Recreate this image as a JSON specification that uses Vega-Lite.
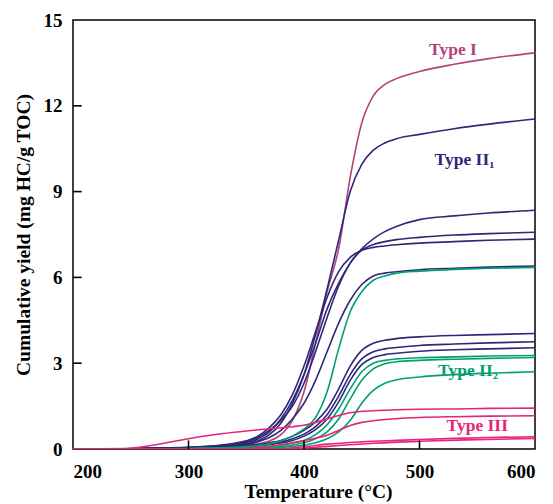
{
  "$schema": "https://vega.github.io/schema/vega-lite/v6.json",
  "width": 462,
  "height": 429,
  "autosize": "none",
  "padding": {"left": 73, "top": 20, "right": 18, "bottom": 55},
  "background": "white",
  "config": {
    "view": {"stroke": "black", "strokeWidth": 1.5},
    "axis": {
      "domain": false,
      "grid": false,
      "ticks": true,
      "tickOpacity": 0,
      "tickSize": -7,
      "labelFont": "Liberation Serif",
      "labelFontWeight": "bold",
      "labelFontSize": 19,
      "labelColor": "black",
      "titleFont": "Liberation Serif",
      "titleFontWeight": "bold",
      "titleFontSize": 19.5,
      "titleColor": "black"
    }
  },
  "datasets": {
    "curves": [
      {"s":"I","k":"I","t":200,"y":0},{"s":"I","k":"I","t":250,"y":0.01},{"s":"I","k":"I","t":300,"y":0.04},{"s":"I","k":"I","t":340,"y":0.1},{"s":"I","k":"I","t":360,"y":0.18},{"s":"I","k":"I","t":370,"y":0.28},{"s":"I","k":"I","t":380,"y":0.5},{"s":"I","k":"I","t":390,"y":1.0},{"s":"I","k":"I","t":400,"y":2.0},{"s":"I","k":"I","t":410,"y":3.7},{"s":"I","k":"I","t":420,"y":5.5},{"s":"I","k":"I","t":430,"y":7.0},{"s":"I","k":"I","t":440,"y":9.5},{"s":"I","k":"I","t":450,"y":11.4},{"s":"I","k":"I","t":460,"y":12.35},{"s":"I","k":"I","t":470,"y":12.75},{"s":"I","k":"I","t":480,"y":12.95},{"s":"I","k":"I","t":500,"y":13.2},{"s":"I","k":"I","t":530,"y":13.45},{"s":"I","k":"I","t":560,"y":13.65},{"s":"I","k":"I","t":600,"y":13.85},

      {"s":"A","k":"II1","t":200,"y":0},{"s":"A","k":"II1","t":250,"y":0.01},{"s":"A","k":"II1","t":300,"y":0.04},{"s":"A","k":"II1","t":340,"y":0.12},{"s":"A","k":"II1","t":360,"y":0.28},{"s":"A","k":"II1","t":370,"y":0.5},{"s":"A","k":"II1","t":380,"y":0.9},{"s":"A","k":"II1","t":390,"y":1.6},{"s":"A","k":"II1","t":400,"y":2.6},{"s":"A","k":"II1","t":410,"y":4.0},{"s":"A","k":"II1","t":420,"y":5.6},{"s":"A","k":"II1","t":430,"y":7.3},{"s":"A","k":"II1","t":440,"y":9.0},{"s":"A","k":"II1","t":450,"y":9.95},{"s":"A","k":"II1","t":460,"y":10.45},{"s":"A","k":"II1","t":470,"y":10.7},{"s":"A","k":"II1","t":480,"y":10.85},{"s":"A","k":"II1","t":500,"y":11.0},{"s":"A","k":"II1","t":530,"y":11.2},{"s":"A","k":"II1","t":560,"y":11.36},{"s":"A","k":"II1","t":600,"y":11.54},

      {"s":"B","k":"II1","t":200,"y":0},{"s":"B","k":"II1","t":250,"y":0.01},{"s":"B","k":"II1","t":300,"y":0.05},{"s":"B","k":"II1","t":340,"y":0.15},{"s":"B","k":"II1","t":360,"y":0.35},{"s":"B","k":"II1","t":370,"y":0.6},{"s":"B","k":"II1","t":380,"y":1.05},{"s":"B","k":"II1","t":390,"y":1.7},{"s":"B","k":"II1","t":400,"y":2.6},{"s":"B","k":"II1","t":410,"y":3.7},{"s":"B","k":"II1","t":420,"y":4.9},{"s":"B","k":"II1","t":430,"y":5.8},{"s":"B","k":"II1","t":440,"y":6.5},{"s":"B","k":"II1","t":450,"y":7.0},{"s":"B","k":"II1","t":460,"y":7.35},{"s":"B","k":"II1","t":470,"y":7.6},{"s":"B","k":"II1","t":480,"y":7.78},{"s":"B","k":"II1","t":500,"y":8.02},{"s":"B","k":"II1","t":530,"y":8.15},{"s":"B","k":"II1","t":560,"y":8.25},{"s":"B","k":"II1","t":600,"y":8.35},

      {"s":"C","k":"II1","t":200,"y":0},{"s":"C","k":"II1","t":250,"y":0.01},{"s":"C","k":"II1","t":300,"y":0.05},{"s":"C","k":"II1","t":340,"y":0.18},{"s":"C","k":"II1","t":360,"y":0.4},{"s":"C","k":"II1","t":370,"y":0.65},{"s":"C","k":"II1","t":380,"y":1.0},{"s":"C","k":"II1","t":390,"y":1.5},{"s":"C","k":"II1","t":400,"y":2.3},{"s":"C","k":"II1","t":410,"y":3.4},{"s":"C","k":"II1","t":420,"y":4.6},{"s":"C","k":"II1","t":430,"y":5.7},{"s":"C","k":"II1","t":440,"y":6.5},{"s":"C","k":"II1","t":450,"y":6.95},{"s":"C","k":"II1","t":460,"y":7.15},{"s":"C","k":"II1","t":470,"y":7.25},{"s":"C","k":"II1","t":480,"y":7.32},{"s":"C","k":"II1","t":500,"y":7.4},{"s":"C","k":"II1","t":530,"y":7.48},{"s":"C","k":"II1","t":560,"y":7.53},{"s":"C","k":"II1","t":600,"y":7.58},

      {"s":"D","k":"II1","t":200,"y":0},{"s":"D","k":"II1","t":250,"y":0.02},{"s":"D","k":"II1","t":300,"y":0.06},{"s":"D","k":"II1","t":340,"y":0.2},{"s":"D","k":"II1","t":360,"y":0.45},{"s":"D","k":"II1","t":370,"y":0.75},{"s":"D","k":"II1","t":380,"y":1.2},{"s":"D","k":"II1","t":390,"y":1.9},{"s":"D","k":"II1","t":400,"y":2.9},{"s":"D","k":"II1","t":410,"y":4.1},{"s":"D","k":"II1","t":420,"y":5.3},{"s":"D","k":"II1","t":430,"y":6.2},{"s":"D","k":"II1","t":440,"y":6.7},{"s":"D","k":"II1","t":450,"y":6.95},{"s":"D","k":"II1","t":460,"y":7.05},{"s":"D","k":"II1","t":470,"y":7.1},{"s":"D","k":"II1","t":480,"y":7.14},{"s":"D","k":"II1","t":500,"y":7.2},{"s":"D","k":"II1","t":530,"y":7.25},{"s":"D","k":"II1","t":560,"y":7.3},{"s":"D","k":"II1","t":600,"y":7.34},

      {"s":"E","k":"II1","t":200,"y":0},{"s":"E","k":"II1","t":250,"y":0.01},{"s":"E","k":"II1","t":300,"y":0.04},{"s":"E","k":"II1","t":340,"y":0.12},{"s":"E","k":"II1","t":360,"y":0.25},{"s":"E","k":"II1","t":370,"y":0.4},{"s":"E","k":"II1","t":380,"y":0.65},{"s":"E","k":"II1","t":390,"y":1.05},{"s":"E","k":"II1","t":400,"y":1.6},{"s":"E","k":"II1","t":410,"y":2.4},{"s":"E","k":"II1","t":420,"y":3.4},{"s":"E","k":"II1","t":430,"y":4.4},{"s":"E","k":"II1","t":440,"y":5.2},{"s":"E","k":"II1","t":450,"y":5.75},{"s":"E","k":"II1","t":460,"y":6.05},{"s":"E","k":"II1","t":470,"y":6.15},{"s":"E","k":"II1","t":480,"y":6.2},{"s":"E","k":"II1","t":500,"y":6.27},{"s":"E","k":"II1","t":530,"y":6.32},{"s":"E","k":"II1","t":560,"y":6.36},{"s":"E","k":"II1","t":600,"y":6.4},

      {"s":"F","k":"II1","t":200,"y":0},{"s":"F","k":"II1","t":250,"y":0.01},{"s":"F","k":"II1","t":300,"y":0.03},{"s":"F","k":"II1","t":340,"y":0.1},{"s":"F","k":"II1","t":360,"y":0.16},{"s":"F","k":"II1","t":370,"y":0.22},{"s":"F","k":"II1","t":380,"y":0.3},{"s":"F","k":"II1","t":390,"y":0.45},{"s":"F","k":"II1","t":400,"y":0.65},{"s":"F","k":"II1","t":410,"y":0.95},{"s":"F","k":"II1","t":420,"y":1.4},{"s":"F","k":"II1","t":430,"y":2.1},{"s":"F","k":"II1","t":440,"y":2.9},{"s":"F","k":"II1","t":450,"y":3.45},{"s":"F","k":"II1","t":460,"y":3.7},{"s":"F","k":"II1","t":470,"y":3.8},{"s":"F","k":"II1","t":480,"y":3.86},{"s":"F","k":"II1","t":500,"y":3.92},{"s":"F","k":"II1","t":530,"y":3.97},{"s":"F","k":"II1","t":560,"y":4.0},{"s":"F","k":"II1","t":600,"y":4.04},

      {"s":"G","k":"II1","t":200,"y":0},{"s":"G","k":"II1","t":250,"y":0.01},{"s":"G","k":"II1","t":300,"y":0.03},{"s":"G","k":"II1","t":340,"y":0.08},{"s":"G","k":"II1","t":360,"y":0.13},{"s":"G","k":"II1","t":370,"y":0.18},{"s":"G","k":"II1","t":380,"y":0.25},{"s":"G","k":"II1","t":390,"y":0.36},{"s":"G","k":"II1","t":400,"y":0.52},{"s":"G","k":"II1","t":410,"y":0.78},{"s":"G","k":"II1","t":420,"y":1.2},{"s":"G","k":"II1","t":430,"y":1.85},{"s":"G","k":"II1","t":440,"y":2.6},{"s":"G","k":"II1","t":450,"y":3.15},{"s":"G","k":"II1","t":460,"y":3.4},{"s":"G","k":"II1","t":470,"y":3.5},{"s":"G","k":"II1","t":480,"y":3.55},{"s":"G","k":"II1","t":500,"y":3.62},{"s":"G","k":"II1","t":530,"y":3.67},{"s":"G","k":"II1","t":560,"y":3.71},{"s":"G","k":"II1","t":600,"y":3.75},

      {"s":"H","k":"II1","t":200,"y":0},{"s":"H","k":"II1","t":250,"y":0.01},{"s":"H","k":"II1","t":300,"y":0.02},{"s":"H","k":"II1","t":340,"y":0.07},{"s":"H","k":"II1","t":360,"y":0.11},{"s":"H","k":"II1","t":370,"y":0.15},{"s":"H","k":"II1","t":380,"y":0.21},{"s":"H","k":"II1","t":390,"y":0.3},{"s":"H","k":"II1","t":400,"y":0.45},{"s":"H","k":"II1","t":410,"y":0.68},{"s":"H","k":"II1","t":420,"y":1.05},{"s":"H","k":"II1","t":430,"y":1.65},{"s":"H","k":"II1","t":440,"y":2.4},{"s":"H","k":"II1","t":450,"y":2.95},{"s":"H","k":"II1","t":460,"y":3.2},{"s":"H","k":"II1","t":470,"y":3.3},{"s":"H","k":"II1","t":480,"y":3.35},{"s":"H","k":"II1","t":500,"y":3.42},{"s":"H","k":"II1","t":530,"y":3.47},{"s":"H","k":"II1","t":560,"y":3.5},{"s":"H","k":"II1","t":600,"y":3.54},

      {"s":"J","k":"II2","t":200,"y":0},{"s":"J","k":"II2","t":250,"y":0},{"s":"J","k":"II2","t":300,"y":0.02},{"s":"J","k":"II2","t":340,"y":0.06},{"s":"J","k":"II2","t":360,"y":0.12},{"s":"J","k":"II2","t":370,"y":0.18},{"s":"J","k":"II2","t":380,"y":0.28},{"s":"J","k":"II2","t":390,"y":0.45},{"s":"J","k":"II2","t":400,"y":0.7},{"s":"J","k":"II2","t":410,"y":1.1},{"s":"J","k":"II2","t":420,"y":2.0},{"s":"J","k":"II2","t":430,"y":3.5},{"s":"J","k":"II2","t":440,"y":4.8},{"s":"J","k":"II2","t":450,"y":5.5},{"s":"J","k":"II2","t":460,"y":5.9},{"s":"J","k":"II2","t":470,"y":6.05},{"s":"J","k":"II2","t":480,"y":6.15},{"s":"J","k":"II2","t":500,"y":6.22},{"s":"J","k":"II2","t":530,"y":6.28},{"s":"J","k":"II2","t":560,"y":6.32},{"s":"J","k":"II2","t":600,"y":6.35},

      {"s":"K","k":"II2","t":200,"y":0},{"s":"K","k":"II2","t":250,"y":0},{"s":"K","k":"II2","t":300,"y":0.01},{"s":"K","k":"II2","t":340,"y":0.03},{"s":"K","k":"II2","t":360,"y":0.06},{"s":"K","k":"II2","t":370,"y":0.09},{"s":"K","k":"II2","t":380,"y":0.13},{"s":"K","k":"II2","t":390,"y":0.2},{"s":"K","k":"II2","t":400,"y":0.3},{"s":"K","k":"II2","t":410,"y":0.5},{"s":"K","k":"II2","t":420,"y":0.85},{"s":"K","k":"II2","t":430,"y":1.4},{"s":"K","k":"II2","t":440,"y":2.1},{"s":"K","k":"II2","t":450,"y":2.7},{"s":"K","k":"II2","t":460,"y":3.0},{"s":"K","k":"II2","t":470,"y":3.1},{"s":"K","k":"II2","t":480,"y":3.15},{"s":"K","k":"II2","t":500,"y":3.19},{"s":"K","k":"II2","t":530,"y":3.22},{"s":"K","k":"II2","t":560,"y":3.25},{"s":"K","k":"II2","t":600,"y":3.27},

      {"s":"L","k":"II2","t":200,"y":0},{"s":"L","k":"II2","t":250,"y":0},{"s":"L","k":"II2","t":300,"y":0.01},{"s":"L","k":"II2","t":340,"y":0.02},{"s":"L","k":"II2","t":360,"y":0.04},{"s":"L","k":"II2","t":370,"y":0.06},{"s":"L","k":"II2","t":380,"y":0.09},{"s":"L","k":"II2","t":390,"y":0.14},{"s":"L","k":"II2","t":400,"y":0.22},{"s":"L","k":"II2","t":410,"y":0.36},{"s":"L","k":"II2","t":420,"y":0.6},{"s":"L","k":"II2","t":430,"y":1.05},{"s":"L","k":"II2","t":440,"y":1.75},{"s":"L","k":"II2","t":450,"y":2.4},{"s":"L","k":"II2","t":460,"y":2.8},{"s":"L","k":"II2","t":470,"y":2.98},{"s":"L","k":"II2","t":480,"y":3.05},{"s":"L","k":"II2","t":500,"y":3.1},{"s":"L","k":"II2","t":530,"y":3.14},{"s":"L","k":"II2","t":560,"y":3.17},{"s":"L","k":"II2","t":600,"y":3.2},

      {"s":"M","k":"II2","t":200,"y":0},{"s":"M","k":"II2","t":250,"y":0},{"s":"M","k":"II2","t":300,"y":0.01},{"s":"M","k":"II2","t":340,"y":0.02},{"s":"M","k":"II2","t":360,"y":0.03},{"s":"M","k":"II2","t":370,"y":0.04},{"s":"M","k":"II2","t":380,"y":0.06},{"s":"M","k":"II2","t":390,"y":0.09},{"s":"M","k":"II2","t":400,"y":0.14},{"s":"M","k":"II2","t":410,"y":0.22},{"s":"M","k":"II2","t":420,"y":0.36},{"s":"M","k":"II2","t":430,"y":0.6},{"s":"M","k":"II2","t":440,"y":1.0},{"s":"M","k":"II2","t":450,"y":1.6},{"s":"M","k":"II2","t":460,"y":2.05},{"s":"M","k":"II2","t":470,"y":2.3},{"s":"M","k":"II2","t":480,"y":2.42},{"s":"M","k":"II2","t":500,"y":2.52},{"s":"M","k":"II2","t":530,"y":2.6},{"s":"M","k":"II2","t":560,"y":2.65},{"s":"M","k":"II2","t":600,"y":2.7},

      {"s":"P","k":"III","t":200,"y":0},{"s":"P","k":"III","t":240,"y":0},{"s":"P","k":"III","t":255,"y":0.05},{"s":"P","k":"III","t":270,"y":0.14},{"s":"P","k":"III","t":300,"y":0.36},{"s":"P","k":"III","t":330,"y":0.54},{"s":"P","k":"III","t":350,"y":0.63},{"s":"P","k":"III","t":370,"y":0.71},{"s":"P","k":"III","t":390,"y":0.78},{"s":"P","k":"III","t":400,"y":0.83},{"s":"P","k":"III","t":410,"y":0.93},{"s":"P","k":"III","t":420,"y":1.05},{"s":"P","k":"III","t":430,"y":1.17},{"s":"P","k":"III","t":440,"y":1.27},{"s":"P","k":"III","t":460,"y":1.34},{"s":"P","k":"III","t":480,"y":1.37},{"s":"P","k":"III","t":500,"y":1.39},{"s":"P","k":"III","t":530,"y":1.4},{"s":"P","k":"III","t":560,"y":1.42},{"s":"P","k":"III","t":600,"y":1.43},

      {"s":"Q","k":"III","t":200,"y":0},{"s":"Q","k":"III","t":340,"y":0.01},{"s":"Q","k":"III","t":360,"y":0.05},{"s":"Q","k":"III","t":380,"y":0.15},{"s":"Q","k":"III","t":400,"y":0.3},{"s":"Q","k":"III","t":420,"y":0.48},{"s":"Q","k":"III","t":430,"y":0.65},{"s":"Q","k":"III","t":440,"y":0.82},{"s":"Q","k":"III","t":450,"y":0.93},{"s":"Q","k":"III","t":460,"y":0.99},{"s":"Q","k":"III","t":480,"y":1.06},{"s":"Q","k":"III","t":500,"y":1.1},{"s":"Q","k":"III","t":530,"y":1.13},{"s":"Q","k":"III","t":560,"y":1.15},{"s":"Q","k":"III","t":600,"y":1.16},

      {"s":"R","k":"III","t":200,"y":0},{"s":"R","k":"III","t":380,"y":0.01},{"s":"R","k":"III","t":400,"y":0.08},{"s":"R","k":"III","t":420,"y":0.17},{"s":"R","k":"III","t":450,"y":0.25},{"s":"R","k":"III","t":480,"y":0.3},{"s":"R","k":"III","t":500,"y":0.33},{"s":"R","k":"III","t":530,"y":0.37},{"s":"R","k":"III","t":560,"y":0.4},{"s":"R","k":"III","t":600,"y":0.43},

      {"s":"S","k":"III","t":200,"y":0},{"s":"S","k":"III","t":390,"y":0.01},{"s":"S","k":"III","t":410,"y":0.06},{"s":"S","k":"III","t":430,"y":0.12},{"s":"S","k":"III","t":460,"y":0.2},{"s":"S","k":"III","t":500,"y":0.27},{"s":"S","k":"III","t":540,"y":0.32},{"s":"S","k":"III","t":600,"y":0.37}
    ],
    "labels": [
      {"k":"I","label":"Type I","t":529,"y":13.95},
      {"k":"II1","label":"Type II₁","t":539,"y":10.1},
      {"k":"II2","label":"Type II₂","t":542,"y":2.73},
      {"k":"III","label":"Type III","t":550,"y":0.8}
    ],
    "xticks": [{"t":300},{"t":400},{"t":500}],
    "yticks": [{"v":3},{"v":6},{"v":9},{"v":12}]
  },
  "layer": [
    {
      "data": {"name": "curves"},
      "mark": {"type": "line", "interpolate": "monotone", "strokeWidth": 1.6, "clip": true},
      "encoding": {
        "x": {
          "field": "t", "type": "quantitative",
          "scale": {"domain": [200, 600], "nice": false},
          "axis": {"values": [200, 300, 400, 500, 600], "labelPadding": 20, "title": "Temperature (°C)", "titlePadding": 1, "titleX": 245}
        },
        "y": {
          "field": "y", "type": "quantitative",
          "scale": {"domain": [0, 15], "nice": false},
          "axis": {"values": [0, 3, 6, 9, 12, 15], "labelPadding": 18, "title": "Cumulative yield (mg HC/g TOC)", "titlePadding": 10}
        },
        "detail": {"field": "s"},
        "color": {
          "field": "k", "type": "nominal",
          "scale": {"domain": ["I", "II1", "II2", "III"], "range": ["#B3437F", "#2F2878", "#00A070", "#E8237C"]},
          "legend": null
        }
      }
    },
    {
      "data": {"name": "xticks"},
      "mark": {"type": "rule", "color": "black", "strokeWidth": 1.6},
      "encoding": {
        "x": {"field": "t", "type": "quantitative"},
        "y": {"datum": 0},
        "y2": {"datum": 0.3}
      }
    },
    {
      "data": {"name": "yticks"},
      "mark": {"type": "rule", "color": "black", "strokeWidth": 1.6},
      "encoding": {
        "y": {"field": "v", "type": "quantitative"},
        "x": {"datum": 200},
        "x2": {"datum": 207.5}
      }
    },
    {
      "data": {"name": "labels"},
      "mark": {"type": "text", "font": "Liberation Serif", "fontWeight": "bold", "fontSize": 17.5, "align": "center", "baseline": "middle"},
      "encoding": {
        "x": {"field": "t", "type": "quantitative"},
        "y": {"field": "y", "type": "quantitative"},
        "text": {"field": "label"},
        "color": {"field": "k", "type": "nominal"}
      }
    }
  ]
}
